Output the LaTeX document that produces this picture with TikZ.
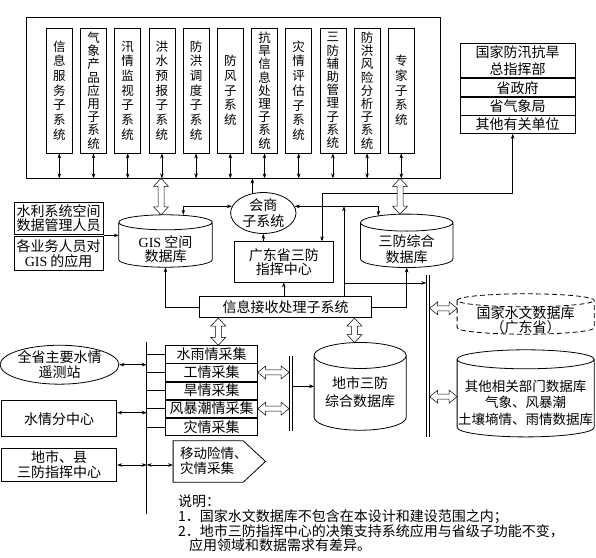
\documentclass[tikz,border=0pt]{standalone}
\usepackage{fontspec}
\setmainfont{Noto Sans CJK SC}
\newfontfamily\latinserif{Liberation Serif}
\XeTeXlinebreaklocale "zh"
\XeTeXlinebreakskip=0pt plus 0.5pt
\usetikzlibrary{arrows.meta, positioning, calc, shapes.geometric}

\tikzset{
  box/.style={draw, line width=0.8pt, inner sep=0pt, align=center, font=\fontsize{14}{14.5}\selectfont},
  subsys/.style={box, minimum width=26, minimum height=125, text width=14pt},
  blank/.style={inner sep=0pt, align=center, font=\fontsize{14}{14.5}\selectfont},
  conn/.style={line width=0.5pt},
  arr/.style={conn, -{Stealth[length=5pt, width=3.5pt]}},
  dblarr/.style={conn, {Stealth[length=5pt, width=3.5pt]}-{Stealth[length=5pt, width=3.5pt]}},
  hollow/.style={draw, line width=0.5pt, fill=white},
  busline/.style={line width=0.8pt}
}

% database outline round a blank node
\newcommand\drawcyl[3][]{%
  \draw[line width=0.8pt, #1] let \p1=(#2.north west), \p2=(#2.south east), \n1={(\x2-\x1)/2} in
    (\x1,{\y1-#3}) -- (\x1,{\y2+#3}) arc[start angle=180, end angle=360, x radius=\n1, y radius=#3]
    -- (\x2,{\y1-#3}) arc[start angle=0, end angle=180, x radius=\n1, y radius=#3]
    arc[start angle=180, end angle=360, x radius=\n1, y radius=#3];}
% hollow double arrows
\newcommand\vhollow[2]{%
  \draw[hollow] let \p1=#1, \p2=#2 in
    ({\x1-3pt},{\y1-8pt}) -- ({\x1-7.5pt},{\y1-8pt}) -- (\x1,\y1) -- ({\x1+7.5pt},{\y1-8pt}) -- ({\x1+3pt},{\y1-8pt})
    -- ({\x1+3pt},{\y2+8pt}) -- ({\x1+7.5pt},{\y2+8pt}) -- (\x1,\y2) -- ({\x1-7.5pt},{\y2+8pt}) -- ({\x1-3pt},{\y2+8pt}) -- cycle;}
\newcommand\hhollow[2]{%
  \draw[hollow] let \p1=#1, \p2=#2 in
    ({\x1+8pt},{\y1+2.5pt}) -- ({\x1+8pt},{\y1+6.5pt}) -- (\x1,\y1) -- ({\x1+8pt},{\y1-6.5pt}) -- ({\x1+8pt},{\y1-2.5pt})
    -- ({\x2-8pt},{\y1-2.5pt}) -- ({\x2-8pt},{\y1-6.5pt}) -- (\x2,\y1) -- ({\x2-8pt},{\y1+6.5pt}) -- ({\x2-8pt},{\y1+2.5pt}) -- cycle;}

\begin{document}
\begin{tikzpicture}[x=1pt, y=-1pt]
  \useasboundingbox (0,0) rectangle (596,557);

  % --- Top frame with subsystems ---
  \node[box, minimum width=414.7, minimum height=160.7] (frame) at (233.35,97.65) {};
  \foreach \txt/\ls [count=\i] in {信息服务子系统/14.7, 气象产品应用子系统/13.2, 汛情监视子系统/14.7,
      洪水预报子系统/14.7, 防洪调度子系统/14.7, 防风子系统/14.7, 抗旱信息处理子系统/13.2,
      灾情评估子系统/14.7, 三防辅助管理子系统/13.2, 防洪风险分析子系统/13.2, 专家子系统/14.7}
    \node[subsys, font=\fontsize{12.5}{\ls}\selectfont] (s\i) at ({59.3+34.2*(\i-1)},90.5) {\txt};
  \foreach \i in {1,...,11}
    \draw[dblarr] (s\i.south) -- (s\i.south |- frame.south);

  % --- National / provincial units ---
  \node[box, minimum width=115, minimum height=34.4, font=\fontsize{14}{16.3}\selectfont] (hq1) at (517.5,60.5) {国家防汛抗旱\\总指挥部};
  \node[box, minimum width=115, minimum height=18.3, below=0pt of hq1] (hq2) {省政府};
  \node[box, minimum width=115, minimum height=17.3, below=0pt of hq2] (hq3) {省气象局};
  \node[box, minimum width=115, minimum height=17.7, below=0pt of hq3] (hq4) {其他有关单位};

  % --- GIS users ---
  \node[box, minimum width=89.3, minimum height=31.3] (staff) at (58.65,218.35) {水利系统空间\\数据管理人员};
  \node[box, minimum width=89.3, minimum height=33.3, below=2pt of staff] (usage) {各业务人员对\\{\latinserif GIS} 的应用};
  \coordinate (join) at ($(staff.south east)!.5!(usage.north east)$);

  % --- Databases ---
  \node[blank, minimum width=93, minimum height=52] (gis) at (165.5,241) {};
  \node[blank] (gistxt) at (165.5,249) {{\latinserif GIS} 空间\\数据库};
  \node[blank, minimum width=92, minimum height=53] (sfdb) at (406.7,240.8) {};
  \node[blank, font=\fontsize{14}{15.3}\selectfont] (sfdbtxt) at (406.7,249.3) {三防综合\\数据库};
  \node[blank, minimum width=136.7, minimum height=40] (natdb) at (525.65,314) {};
  \node[blank, font=\fontsize{14}{14}\selectfont] (natdbtxt) at (525.65,320) {国家水文数据库\\（广东省）};
  \node[blank, minimum width=136.7, minimum height=86.7] (othdb) at (525.65,393.35) {};
  \node[blank, font=\fontsize{13.5}{16.5}\selectfont] (othdbtxt) at (525.65,402.5) {其他相关部门数据库\\气象、风暴潮\\土壤墒情、雨情数据库};
  \node[blank, minimum width=91.7, minimum height=87.3] (citydb) at (360.15,386.35) {};
  \node[blank, font=\fontsize{14}{17.4}\selectfont] (citydbtxt) at (360.15,392) {地市三防\\综合数据库};
  \drawcyl{gis}{7.5pt}
  \drawcyl{sfdb}{8.5pt}
  \drawcyl[dash pattern=on 5pt off 3pt]{natdb}{6.5pt}
  \drawcyl{othdb}{9.5pt}
  \drawcyl{citydb}{13pt}

  % --- Middle boxes ---
  \node[box, ellipse, minimum width=65.4, minimum height=37.6, font=\fontsize{14}{16}\selectfont] (meet) at (263.3,213) {会商\\子系统};
  \node[box, minimum width=99, minimum height=40.3, font=\fontsize{14}{14}\selectfont] (gdhq) at (283.8,261.85) {广东省三防\\指挥中心};
  \node[box, minimum width=172.4, minimum height=21] (recv) at (285.5,307.2) {信息接收处理子系统};

  % --- Buses ---
  \node[blank, minimum width=3, minimum height=162] (bus1) at (428,356) {};
  \node[blank, minimum width=2.7, minimum height=74.7] (bus2) at (290.65,393.35) {};
  \node[blank, minimum width=0, minimum height=172] (bus3) at (146.7,428) {};
  \draw[busline] (bus1.north west) -- (bus1.south west) (bus1.north east) -- (bus1.south east);
  \draw[busline] (bus2.north west) -- (bus2.south west) (bus2.north east) -- (bus2.south east);
  \draw[conn] (bus3.north) -- (bus3.south);

  % --- Collection ---
  \node[box, minimum width=91.6, minimum height=17.3] (row1) at (211.5,354.35) {水雨情采集};
  \node[box, minimum width=91.6, minimum height=17.3, below=0pt of row1] (row2) {工情采集};
  \node[box, minimum width=91.6, minimum height=17.3, below=0pt of row2] (row3) {旱情采集};
  \node[box, minimum width=91.6, minimum height=17.3, below=0pt of row3] (row4) {风暴潮情采集};
  \node[box, minimum width=91.6, minimum height=17.3, below=0pt of row4] (row5) {灾情采集};
  \node[blank, minimum width=69.7, minimum height=41] (mobile) at (208.15,461.5) {};
  \draw[line width=0.8pt] (mobile.north west) -- (mobile.north east) -- ($(mobile.east)+(22.3,0)$)
    -- (mobile.south east) -- (mobile.south west) -- cycle;
  \node[blank, anchor=west, align=left, font=\fontsize{13.5}{15}\selectfont] (mobiletxt) at (180,461) {移动险情、\\灾情采集};

  % --- Left sources ---
  \node[box, ellipse, minimum width=111, minimum height=37.3] (station) at (59.5,364.7) {全省主要水情\\遥测站};
  \node[box, minimum width=115, minimum height=36] (subctr) at (59.2,418.7) {水情分中心};
  \node[box, minimum width=115, minimum height=33.4, font=\fontsize{14}{15}\selectfont] (cityhq) at (59.2,465) {地市、县\\三防指挥中心};

  % --- Connectors ---
  \draw[arr] (join) -- (join -| gis.west);
  \draw[dblarr] ([xshift=17.8pt]gis.north) |- (meet.168);
  \draw[arr] (meet.119) -- (meet.119 |- frame.south);
  \draw[arr] (meet.south |- gdhq.north) -- (meet.south);
  \draw[arr] (gdhq.south |- recv.north) -- (gdhq.south);
  \draw[dblarr] ([xshift=-4.8pt]hq4.south) -- ++(0,59.2) -| ([xshift=38.2pt]gdhq.north);
  \draw[dblarr] (meet.12) -| ([xshift=-28.4pt,yshift=-1.8pt]sfdb.north);
  \coordinate (tap) at ([xshift=58.5pt,yshift=13.4pt]recv.north);
  \draw[arr] ([xshift=58.5pt]recv.north) -- ([xshift=58.5pt]recv.north |- meet.12);
  \draw[arr] (tap) -- (tap -| bus1.west);
  \draw[arr] (recv.east) -| (sfdb.south);
  \draw[arr] (recv.west) -| (gis.south);
  \foreach \r in {1,...,5}
    \draw[conn] (row\r.west) -- (row\r.west -| bus3.center);
  \draw[dblarr] (station.east) -- (station.east -| bus3.center);
  \draw[dblarr] ([yshift=6pt]subctr.east) -- ([yshift=6pt]subctr.east -| bus3.center);
  \draw[dblarr] (cityhq.east) -- (cityhq.east -| bus3.center);
  \draw[dblarr] (cityhq.east -| bus3.center) -- (cityhq.east -| mobile.west);
  \draw[arr] (citydb.west -| bus2.east) -- (citydb.west);

  % --- Hollow arrows ---
  \vhollow{([xshift=-4.5pt]gis.north |- frame.south)}{([xshift=-4.5pt]gis.north)}
  \vhollow{([xshift=-6.7pt]sfdb.north |- frame.south)}{([xshift=-6.7pt]sfdb.north)}
  \vhollow{([xshift=6.8pt]row1.north |- recv.south)}{([xshift=6.8pt]row1.north)}
  \vhollow{([xshift=-5.7pt]citydb.north |- recv.south)}{([xshift=-5.7pt]citydb.north)}
  \hhollow{(row2.east)}{(row2.east -| bus2.west)}
  \hhollow{(row4.east)}{(row4.east -| bus2.west)}
  \hhollow{([yshift=5.7pt]natdb.west -| bus1.east)}{([yshift=5.7pt]natdb.west)}
  \hhollow{([yshift=-3.3pt]othdb.west -| bus1.east)}{([yshift=-3.3pt]othdb.west)}

  % --- Notes ---
  \node[blank, anchor=north west, align=left, font=\fontsize{14}{14.8}\selectfont] (notes) at (178,494.5)
    {说明：\\1．国家水文数据库不包含在本设计和建设范围之内；\\2．地市三防指挥中心的决策支持系统应用与省级子功能不变，\\\hspace*{11pt}应用领域和数据需求有差异。};
\end{tikzpicture}
\end{document}
